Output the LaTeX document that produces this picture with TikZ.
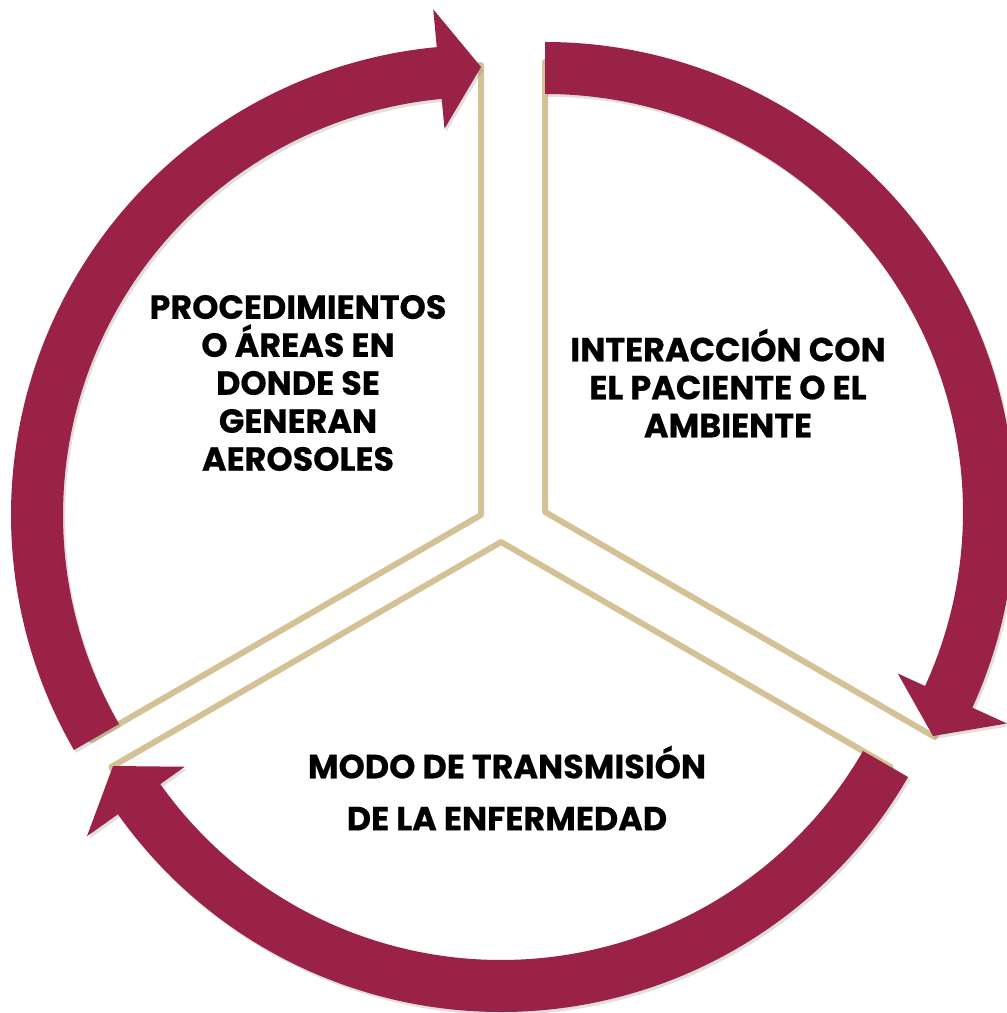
\documentclass[tikz,border=0pt]{standalone}
\usepackage{fontspec}
\setmainfont{Poppins}[BoldFeatures={FakeBold=0.5}]
\usetikzlibrary{shadows}
\definecolor{vino}{HTML}{9B2247}
\definecolor{arena}{HTML}{D4C296}
\tikzset{
  sector/.style={draw=arena,line width=1.7pt,fill=white,line join=round},
  band/.style={fill=vino,drop shadow={shadow xshift=.6pt,shadow yshift=-.8pt,opacity=.25}},
  lbl/.style={align=center,font=\bfseries\fontsize{9.5}{10.8}\selectfont}
}
% apex, start angle, end angle (clockwise, head at the end)
\newcommand\cyclearrow[3]{%
  \fill[band,shift={#1}] (#2:470) arc[start angle=#2,end angle=#3+5.4,radius=470]
    -- (#3+5.4:508) -- (#3:448) -- (#3+5.4:388) -- (#3+5.4:418)
    arc[start angle=#3+5.4,end angle=#2,radius=418] -- cycle;}
\begin{document}
\begin{tikzpicture}[x=0.01cm,y=0.01cm]
\useasboundingbox (0,0) rectangle (1006,-1013);
\coordinate (tl) at (481,-515);
\coordinate (tr) at (545,-512);
\coordinate (bt) at (501,-542);
% slices
\draw[sector] (tl) -- ++(90:450) arc[start angle=90,end angle=210,radius=450] -- cycle;
\draw[sector] (tr) -- ++(-30:450) arc[start angle=-30,end angle=90,radius=450] -- cycle;
\draw[sector] (bt) -- ++(210:450) arc[start angle=210,end angle=330,radius=450] -- cycle;
% arrows
\cyclearrow{(tl)}{210}{90}
\cyclearrow{(tr)}{90}{-30}
\cyclearrow{(bt)}{-30}{-150}
% texts
\node[lbl] (proc) at (298,-383) {PROCEDIMIENTOS\\O ÁREAS EN\\DONDE SE\\GENERAN\\AEROSOLES};
\node[lbl] (inter) at (728,-383) {INTERACCIÓN CON\\EL PACIENTE O EL\\AMBIENTE};
\node[lbl,font=\bfseries\fontsize{9.5}{14.8}\selectfont] (modo) at (507,-788) {MODO DE TRANSMISIÓN\\DE LA ENFERMEDAD};
\end{tikzpicture}
\end{document}
